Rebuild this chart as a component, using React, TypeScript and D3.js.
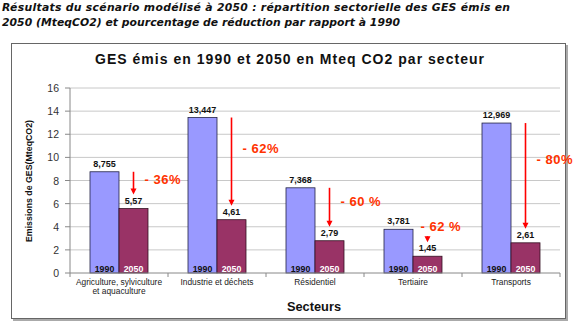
import React from "react";
import * as d3 from "d3";

const categories = [
  ["Agriculture, sylviculture", "et aquaculture"],
  ["Industrie et déchets"],
  ["Résidentiel"],
  ["Tertiaire"],
  ["Transports"],
];
const catKeys = categories.map((c) => c.join(" "));
const values1990 = [8.755, 13.447, 7.368, 3.781, 12.969];
const values2050 = [5.57, 4.61, 2.79, 1.45, 2.61];
const labels1990 = ["8,755", "13,447", "7,368", "3,781", "12,969"];
const labels2050 = ["5,57", "4,61", "2,79", "1,45", "2,61"];
const reductions = ["- 36%", "- 62%", "- 60 %", "- 62 %", "- 80%"];
const yTicks = [0, 2, 4, 6, 8, 10, 12, 14, 16];
const years = ["1990", "2050"];

const W = 580;
const H = 326;
const plotL = 70;
const plotR = 560;
const plotT = 88;
const plotB = 273;

export default function App() {
  const x = d3.scaleBand().domain(catKeys).range([plotL, plotR]).paddingInner(0).paddingOuter(0);
  const y = d3.scaleLinear().domain([0, 16]).range([plotB, plotT]);
  const groupPad = 20;
  const xs = d3.scaleBand().domain(years).range([0, x.bandwidth() - 2 * groupPad]);
  const font = "'Liberation Sans', Arial, Helvetica, sans-serif";
  const boundaries = catKeys.map((k) => x(k) as number).concat([plotR]);

  return (
    <svg width={W} height={H} style={{ position: "absolute", left: 0, top: 0, background: "#fff" }} fontFamily={font}>
      <rect x={0} y={0} width={W} height={H} fill="#fff" />
      {/* Heading */}
      <text x={2} y={7} dominantBaseline="central" fontFamily="'DejaVu Sans', Verdana, sans-serif" fontWeight="bold" fontStyle="italic" fontSize={10.8} fill="#111" textLength={508}>
        Résultats du scénario modélisé à 2050 : répartition sectorielle des GES émis en
      </text>
      <text x={2} y={22} dominantBaseline="central" fontFamily="'DejaVu Sans', Verdana, sans-serif" fontWeight="bold" fontStyle="italic" fontSize={10.8} fill="#111" textLength={398}>
        2050 (MteqCO2) et pourcentage de réduction par rapport à 1990
      </text>

      {/* Frame */}
      <rect x={13} y={45} width={555} height={276} fill="#aaa" />
      <rect x={11.5} y={43.5} width={554} height={275} fill="#fff" stroke="#666" strokeWidth={1} />

      {/* Chart title */}
      <text x={95} y={59} dominantBaseline="central" fontWeight="bold" fontSize={14} fill="#111" textLength={389}>
        GES émis en 1990 et 2050 en Mteq CO2 par secteur
      </text>

      {/* Gridlines */}
      {yTicks.filter((t) => t > 0).map((t) => (
        <line key={"g" + t} x1={plotL} x2={plotR} y1={y(t)} y2={y(t)} stroke="#c8c8c8" strokeWidth={1} />
      ))}

      {/* Y axis */}
      <line x1={plotL} x2={plotL} y1={plotT} y2={plotB} stroke="#888" strokeWidth={1} />
      {yTicks.map((t) => (
        <g key={"t" + t}>
          <line x1={plotL - 5} x2={plotL} y1={y(t)} y2={y(t)} stroke="#888" />
          <text x={59} y={y(t)} textAnchor="end" dominantBaseline="central" fontSize={10.5} fill="#333">
            {t}
          </text>
        </g>
      ))}
      <text transform={`translate(29,181) rotate(-90)`} textAnchor="middle" dominantBaseline="central" fontWeight="bold" fontSize={8.8} fill="#111" textLength={122}>
        Emissions de GES(MteqCO2)
      </text>

      {/* Bars */}
      {catKeys.map((k, i) => {
        const gx = (x(k) as number) + groupPad;
        const bw = xs.bandwidth();
        const x1990 = gx + (xs("1990") as number);
        const x2050 = gx + (xs("2050") as number);
        return (
          <g key={"b" + k}>
            <rect x={x1990} y={y(values1990[i])} width={bw} height={y(0) - y(values1990[i])} fill="#9999ff" stroke="#222244" strokeWidth={0.8} />
            <rect x={x2050} y={y(values2050[i])} width={bw} height={y(0) - y(values2050[i])} fill="#993366" stroke="#331122" strokeWidth={0.8} />
            <text x={x1990 + bw / 2} y={y(0) - 4.5} textAnchor="middle" dominantBaseline="central" fontWeight="bold" fontSize={8.8} fill="#111">1990</text>
            <text x={x2050 + bw / 2} y={y(0) - 4.5} textAnchor="middle" dominantBaseline="central" fontWeight="bold" fontSize={8.8} fill="#fff">2050</text>
            <text x={x1990 + bw / 2} y={y(values1990[i]) - 8} textAnchor="middle" dominantBaseline="central" fontWeight="bold" fontSize={9} fill="#111">{labels1990[i]}</text>
            <text x={x2050 + bw / 2} y={y(values2050[i]) - 8} textAnchor="middle" dominantBaseline="central" fontWeight="bold" fontSize={9} fill="#111">{labels2050[i]}</text>
          </g>
        );
      })}

      {/* X axis */}
      <line x1={plotL} x2={plotR} y1={plotB} y2={plotB} stroke="#888" strokeWidth={1} />
      {boundaries.map((b, i) => (
        <line key={"xb" + i} x1={b} x2={b} y1={plotB} y2={plotB + 4} stroke="#888" />
      ))}
      {categories.map((lines, i) => (
        <text key={"c" + i} x={(x(catKeys[i]) as number) + x.bandwidth() / 2} y={281.5} textAnchor="middle" dominantBaseline="central" fontSize={8.4} fill="#222">
          {lines.map((l, j) => (
            <tspan key={j} x={(x(catKeys[i]) as number) + x.bandwidth() / 2} dy={j === 0 ? 0 : 9.2}>{l}</tspan>
          ))}
        </text>
      ))}
      <text x={314} y={306} textAnchor="middle" dominantBaseline="central" fontWeight="bold" fontSize={12.8} fill="#111">Secteurs</text>

      {/* Reduction arrows */}
      {catKeys.map((k, i) => {
        const gx = (x(k) as number) + groupPad;
        const bw = xs.bandwidth();
        const ax = gx + (xs("2050") as number) + bw / 2;
        const end = y(values2050[i]) - 15;
        let top = y(values1990[i]);
        const len = end - top;
        const short = len < 20;
        if (short) top = end - 5;
        const lx = short ? ax - 7 : ax + 11;
        const ly = short ? top - 10 : top + 0.35 * len;
        return (
          <g key={"a" + k}>
            <line x1={ax} x2={ax} y1={top} y2={end - 4} stroke="#ff0000" strokeWidth={1.6} />
            <path d={`M${ax - 3},${end - 5} L${ax + 3},${end - 5} L${ax},${end + 1} Z`} fill="#ff0000" />
            <text x={lx} y={ly} dominantBaseline="central" fontWeight="bold" fontSize={13} fill="#ff3300" letterSpacing={0.5}>
              {reductions[i]}
            </text>
          </g>
        );
      })}
    </svg>
  );
}
